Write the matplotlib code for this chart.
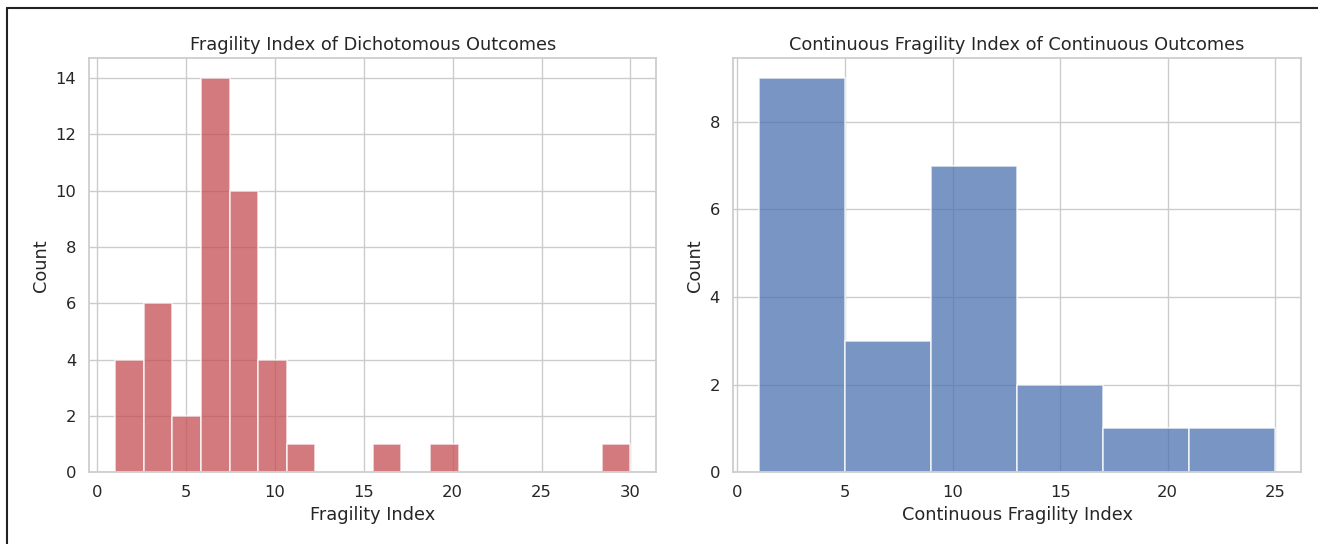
import matplotlib
matplotlib.use("Agg")
import matplotlib.pyplot as plt
import numpy as np
import seaborn as sns

# left: dichotomous outcomes, 18 bins from 1 to 30
fi_edges = np.linspace(1, 30, 19)
fi_counts = [4, 6, 2, 14, 10, 4, 1, 0, 0, 1, 0, 1, 0, 0, 0, 0, 0, 1]

# right: continuous outcomes, 6 bins from 1 to 25
cfi_edges = [1, 5, 9, 13, 17, 21, 25]
cfi_counts = [9, 3, 7, 2, 1, 1]

sns.set_theme(style="whitegrid")
plt.rcParams['font.family'] = ['DejaVu Sans']

fig = plt.figure(figsize=(13.18, 5.44), dpi=100)
ax1 = fig.add_axes([0.0678, 0.132, 0.430, 0.761])
ax2 = fig.add_axes([0.5562, 0.132, 0.431, 0.761])


def draw_hist(ax, edges, counts, color):
    edges = np.asarray(edges, dtype=float)
    widths = np.diff(edges)
    ax.bar(edges[:-1], counts, width=widths, align='edge', color=color,
           alpha=0.75, edgecolor='white', linewidth=1.2)


draw_hist(ax1, fi_edges, fi_counts, '#C44E52')
ax1.set_title('Fragility Index of Dichotomous Outcomes', fontsize=12.8)
ax1.set_xlabel('Fragility Index', fontsize=12.8)
ax1.set_ylabel('Count', fontsize=12.8)
ax1.set_xlim(-0.45, 31.45)
ax1.set_ylim(0, 14.7)
ax1.set_xticks([0, 5, 10, 15, 20, 25, 30])
ax1.set_yticks([0, 2, 4, 6, 8, 10, 12, 14])

draw_hist(ax2, cfi_edges, cfi_counts, '#4C72B0')
ax2.set_title('Continuous Fragility Index of Continuous Outcomes', fontsize=12.8)
ax2.set_xlabel('Continuous Fragility Index', fontsize=12.8)
ax2.set_ylabel('Count', fontsize=12.8)
ax2.set_xlim(-0.2, 26.2)
ax2.set_ylim(0, 9.45)
ax2.set_xticks([0, 5, 10, 15, 20, 25])
ax2.set_yticks([0, 2, 4, 6, 8])

for ax in (ax1, ax2):
    ax.tick_params(labelsize=11.8)
    ax.set_axisbelow(True)

# thin dark frame at top and left of the image
fig.add_artist(plt.Line2D([0.0053, 1.0], [0.985, 0.985], color='#222222', linewidth=1.5))
fig.add_artist(plt.Line2D([0.0053, 0.0053], [0.0, 0.985], color='#222222', linewidth=1.5))

fig.savefig('out.png', dpi=100)
